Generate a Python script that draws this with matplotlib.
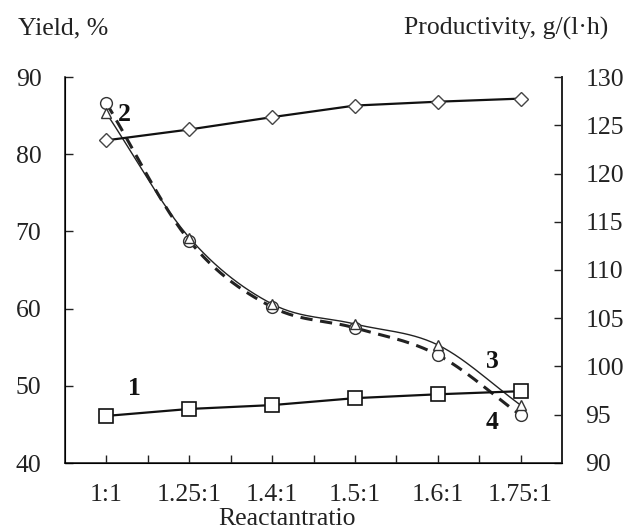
import numpy as np
import matplotlib
matplotlib.use("Agg")
import matplotlib.pyplot as plt

plt.rcParams['font.family'] = ['Liberation Serif', 'DejaVu Serif']

categories = ["1:1", "1.25:1", "1.4:1", "1.5:1", "1.6:1", "1.75:1"]
series1_squares = [46.1, 47.0, 47.5, 48.4, 48.9, 49.3]
series2_diamonds = [81.8, 83.2, 84.8, 86.3, 86.8, 87.2]
series3_triangles = [85.3, 69.2, 60.6, 58.0, 55.3, 47.5]
series4_circles = [86.6, 68.8, 60.2, 57.5, 54.0, 46.2]
left_ticks = [40, 50, 60, 70, 80, 90]
right_ticks = [90, 95, 100, 105, 110, 115, 120, 125, 130]

FS = 18.5


def smooth(xs, ys, n=30):
    xs = np.asarray(xs, float)
    ys = np.asarray(ys, float)
    px = np.concatenate([[2 * xs[0] - xs[1]], xs, [2 * xs[-1] - xs[-2]]])
    py = np.concatenate([[2 * ys[0] - ys[1]], ys, [2 * ys[-1] - ys[-2]]])
    ox, oy = [], []
    t = np.linspace(0, 1, n)
    for i in range(1, len(px) - 2):
        for arr, out in ((px, ox), (py, oy)):
            p0, p1, p2, p3 = arr[i - 1], arr[i], arr[i + 1], arr[i + 2]
            out.extend(0.5 * ((2 * p1) + (-p0 + p2) * t
                              + (2 * p0 - 5 * p1 + 4 * p2 - p3) * t ** 2
                              + (-p0 + 3 * p1 - 3 * p2 + p3) * t ** 3))
    return np.array(ox), np.array(oy)


fig = plt.figure(figsize=(6.32, 5.31), dpi=100)
ax = fig.add_axes([65 / 632, 68 / 531, 497 / 632, 386 / 531])
x = np.arange(len(categories))

# curves 3 (solid thin, triangles) and 4 (dashed, circles)
sx, sy = smooth(x, series4_circles)
ax.plot(sx, sy, color='#222222', lw=2.2, ls=(0, (4, 2.5)), zorder=2)
sx, sy = smooth(x, series3_triangles)
ax.plot(sx, sy, color='#222222', lw=1.0, zorder=3)
ax.plot(x, series4_circles, ls='none', marker='o', ms=8.5, mfc='white',
        mec='#333333', mew=1.0, zorder=4)
ax.plot(x, series3_triangles, ls='none', marker='^', ms=7, mfc='white',
        mec='#333333', mew=1.0, zorder=5)

# lines 1 and 2
ax.plot(x, series2_diamonds, color='#111111', lw=1.6, marker='D', ms=7,
        mfc='white', mec='#444444', mew=1.0, zorder=6)
ax.plot(x, series1_squares, color='#111111', lw=1.6, marker='s', ms=10,
        mfc='white', mec='#111111', mew=1.2, zorder=6)

ax.set_xlim(-0.5, len(categories) - 0.5)
ax.set_ylim(40, 90)
ax.set_yticks(left_ticks)
ax.set_xticks(x)
ax.set_xticklabels(categories)
ax.set_xticks(np.arange(0.5, len(categories) - 0.5, 1.0), minor=True)
ax.spines['top'].set_visible(False)
for s in ('left', 'right', 'bottom'):
    ax.spines[s].set_color('#222222')
    ax.spines[s].set_linewidth(1.2)
ax.tick_params(axis='y', direction='in', length=6, width=1.0, pad=17,
               labelsize=FS, colors='#222222')
ax.tick_params(axis='x', which='both', direction='in', length=6, width=1.0,
               pad=15, labelsize=FS, colors='#222222')

ax2 = ax.twinx()
ax2.set_ylim(90, 130)
ax2.set_yticks(right_ticks)
ax2.spines['top'].set_visible(False)
ax2.spines['right'].set_color('#222222')
ax2.spines['right'].set_linewidth(1.2)
ax2.tick_params(axis='y', direction='in', length=6, width=1.0, pad=17,
                labelsize=FS, colors='#222222')

# number labels
lab = dict(fontsize=FS, fontweight='bold', color='#111111', ha='center', va='center')
ax.text(0.34, 49.7, "1", **lab)
ax.text(0.22, 85.1, "2", **lab)
ax.text(4.66, 53.1, "3", **lab)
ax.text(4.65, 45.3, "4", **lab)

fig.text(18 / 632, 1 - 28 / 531, "Yield, %", fontsize=FS, ha='left',
         va='center', color='#222222')
fig.text(608 / 632, 1 - 28 / 531, "Productivity, g/(l·h)", fontsize=FS,
         ha='right', va='center', color='#222222')
fig.text(287 / 632, 1 - 519 / 531, "Reactantratio", fontsize=FS,
         ha='center', va='center', color='#222222')

fig.savefig("out.png", dpi=100, facecolor='white')
